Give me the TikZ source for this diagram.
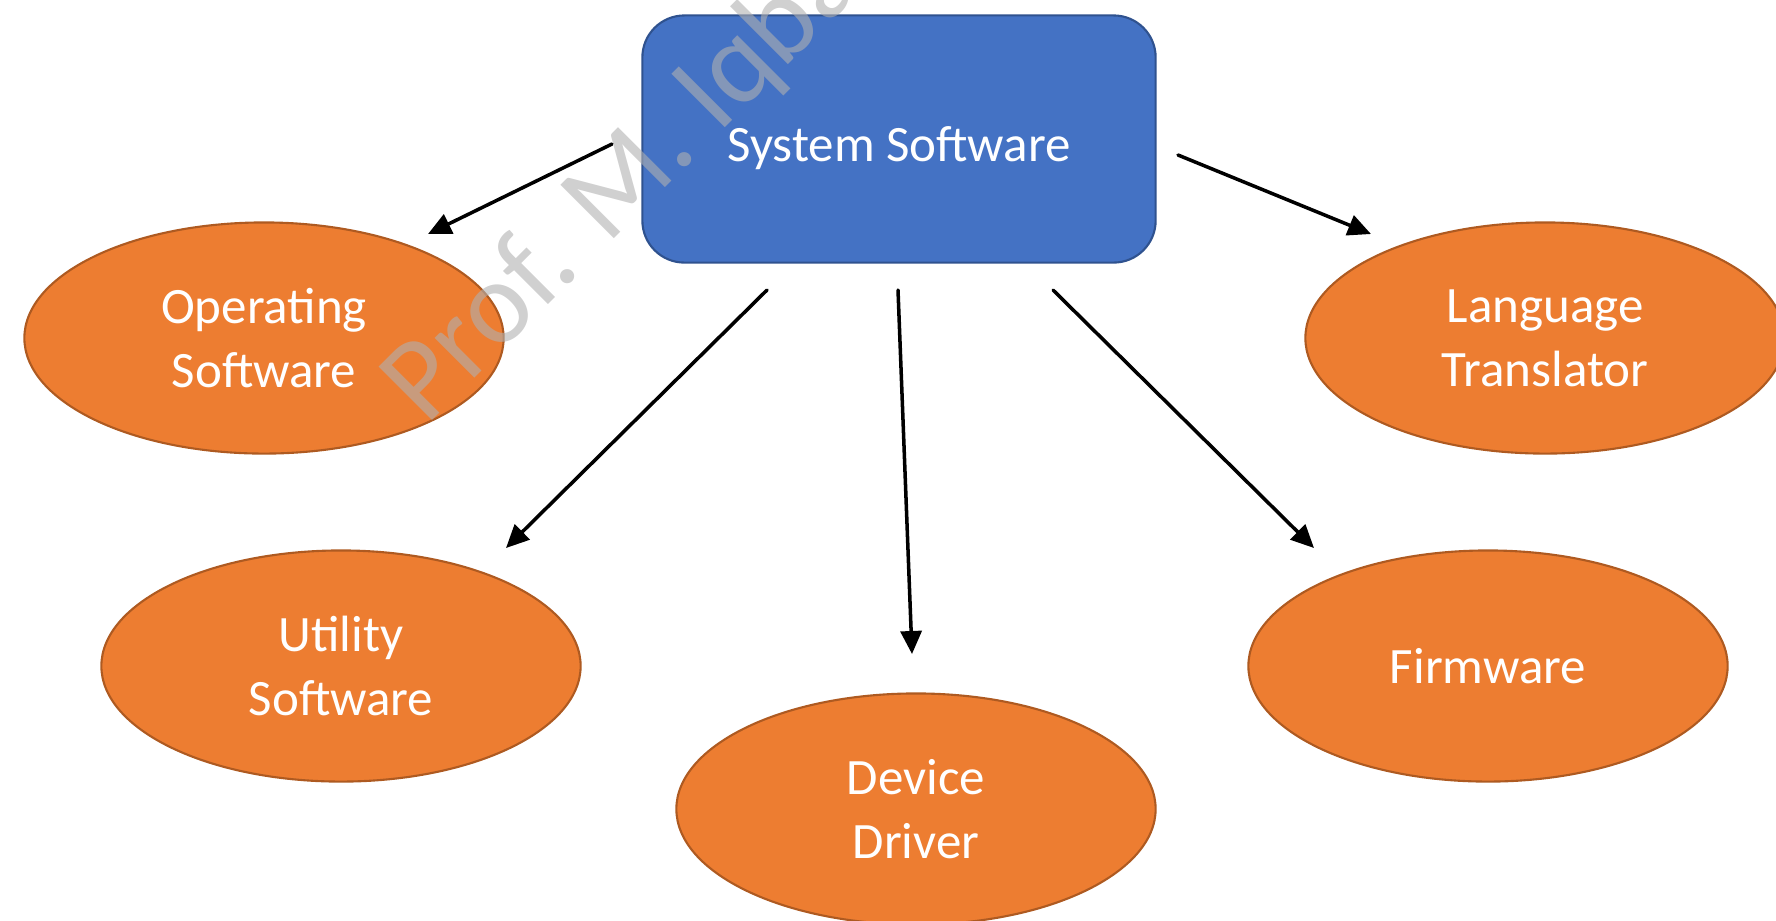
\documentclass[tikz,border=0pt]{standalone}
\usepackage{fontspec}
\setmainfont{Carlito}
\usetikzlibrary{shapes.geometric,arrows.meta}

\definecolor{boxblue}{HTML}{4472C4}
\definecolor{boxline}{HTML}{2F528F}
\definecolor{ovalfill}{HTML}{ED7D31}
\definecolor{ovalline}{HTML}{AE5A21}
\definecolor{wmgray}{HTML}{B0B0B0}

\tikzset{
    sysbox/.style={draw=boxline, fill=boxblue, rounded corners=0.42cm, line width=0.6pt,
        minimum width=5.13cm, minimum height=2.47cm, text=white,
        text height=16pt, text depth=3pt,
        font=\fontsize{14.5}{18.3}\selectfont},
    oval/.style={ellipse, draw=ovalline, fill=ovalfill, line width=0.6pt, inner sep=0pt,
        minimum width=4.79cm, minimum height=2.31cm, text=white, align=center,
        font=\fontsize{14.5}{18.3}\selectfont},
    arr/.style={-{Triangle[length=0.23cm, width=0.21cm]}, line width=1pt},
    watermark/.style={text=wmgray, text opacity=0.6, font=\fontsize{33.5}{40}\selectfont}
}

\begin{document}
\begin{tikzpicture}[line cap=round, line join=round, x=0.01cm, y=-0.01cm]
                \clip (0, 0) rectangle (1776, 920);
                \node[sysbox] (sys) at (899, 139) {System Software};
                \node[oval] (opsw) at (264, 338) {Operating\\Software};
                \node[oval] (langtr) at (1545, 338) {Language\\Translator};
                \node[oval] (utilsw) at (341, 666) {Utility\\Software};
                \node[oval] (devdrv) at (916, 809) {Device\\Driver};
                \node[oval] (firmw) at (1488, 666) {Firmware};
                % arrow ends
                \coordinate (s1) at (612, 144);
                \coordinate (e1) at (428, 234);
                \coordinate (s2) at (767, 290);
                \coordinate (e2) at (506, 548);
                \coordinate (s3) at (898, 290);
                \coordinate (e3) at (912, 654);
                \coordinate (s4) at (1053, 290);
                \coordinate (e4) at (1314, 548);
                \coordinate (s5) at (1178, 155);
                \coordinate (e5) at (1371, 234);
                \foreach \i in {1,...,5}
                    \draw[arr] (s\i) -- (e\i);
                \node[watermark, anchor=base west, rotate=45, inner sep=0pt] (wmark) at (426, 427) {Prof. M. Iqbal};
            \end{tikzpicture}
\end{document}
